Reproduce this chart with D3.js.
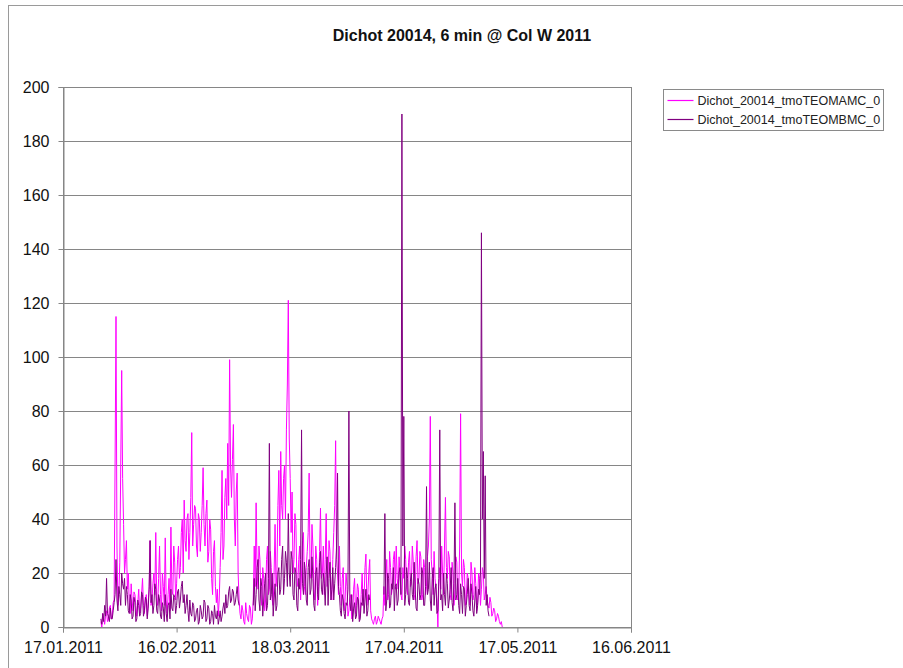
<!DOCTYPE html>
<html>
<head>
<meta charset="utf-8">
<script src="https://cdn.jsdelivr.net/npm/d3@7"></script>
<style>
body { margin: 0; background: #fff; }
svg { display: block; font-family: Arial, "Liberation Sans", sans-serif; }
</style>
</head>
<body>
<div id="chart"></div>
<script>

let title = "Dichot 20014, 6 min @ Col W 2011"

let seriesNames = ["Dichot_20014_tmoTEOMAMC_0", "Dichot_20014_tmoTEOMBMC_0"]

// first sample and spacing of the read-off values
let startDate = "27.01.2011"
let stepHours = 6

let amcValues = [
	2,0, 5,3, 1,4, 6,2, 3,7, 8,3, 4,9, 10,60, 115,30, 8,12,
	24,60, 95,55, 38,20, 25,32, 14,20, 9,5, 16,10, 6,13, 12,8, 4,9,
	14,5, 7,12, 18,8, 5,10, 12,4, 9,15, 32,8, 10,16, 20,12, 35,10,
	8,18, 30,12, 6,20, 15,8, 33,10, 4,12, 18,6, 37,14, 12,30, 24,10,
	16,25, 30,18, 22,35, 40,20, 47,32, 28,40, 42,25, 35,48, 72,30, 38,45,
	44,30, 26,42, 40,28, 35,45, 59,38, 30,42, 47,24, 28,40, 36,18, 12,28,
	32,15, 9,14, 4,10, 22,35, 58,25, 30,48, 55,40, 68,45, 99,60, 48,62,
	75,40, 30,50, 57,20, 10,5, 3,8, 6,2, 1,9, 5,3, 2,8, 7,1,
	3,10, 30,15, 46,20, 14,30, 25,12, 8,22, 18,6, 10,25, 30,12, 14,28,
	22,10, 8,20, 38,15, 20,45, 58,30, 65,45, 40,55, 60,40, 73,90, 121,70,
	55,35, 50,20, 25,42, 38,18, 15,25, 30,10, 20,32, 35,15, 12,22, 28,35,
	57,20, 18,38, 30,14, 10,30, 25,8, 15,28, 44,18, 20,30, 12,25, 42,15,
	18,32, 28,12, 10,25, 35,45, 69,25, 20,12, 30,15, 8,18, 22,6, 10,20,
	15,4, 6,10, 12,3, 4,14, 18,5, 8,16, 14,3, 5,12, 20,8, 10,22,
	27,8, 12,20, 25,6, 3,2, 1,3, 4,1, 2,4, 3,2, 1,3, 4,15,
	8,18, 25,10, 12,28, 22,12, 15,25, 28,14, 30,18, 14,26, 20,12, 10,22,
	18,30, 25,14, 12,24, 28,15, 16,30, 24,12, 10,26, 32,16, 18,28, 26,10,
	12,25, 22,12, 15,26, 30,40, 78,25, 20,12, 28,18, 14,10, 0,15, 22,14,
	30,20, 12,30, 48,22, 18,28, 26,12, 10,24, 20,8, 14,26, 24,10, 12,30,
	79,20, 15,25, 22,8, 10,20, 18,12, 8,24, 20,10, 12,22, 16,6, 9,20,
	18,8, 14,22, 20,10, 12,15, 10,8, 7,11, 9,4, 5,7, 6,2, 3,5,
	4,2, 1,2, 0
]

let bmcValues = [
	3,1, 5,2, 8,4, 18,5, 4,2, 7,3, 3,6, 9,12, 25,10, 6,15,
	12,8, 20,16, 14,18, 8,15, 12,6, 5,12, 10,3, 4,11, 9,2, 3,10,
	8,4, 5,13, 12,4, 6,11, 10,3, 7,14, 32,9, 12,5, 8,16, 14,6,
	5,12, 10,4, 3,9, 7,2, 12,5, 2,8, 9,3, 14,7, 6,12, 11,5,
	8,13, 14,7, 10,15, 17,9, 12,5, 8,12, 6,2, 10,5, 4,9, 8,2,
	3,6, 7,1, 2,8, 6,3, 4,10, 9,2, 3,8, 7,1, 2,6, 5,1,
	8,4, 3,6, 1,3, 6,2, 4,7, 9,5, 12,7, 8,13, 15,9, 10,14,
	13,8, 9,12, 15,10, 8,null, null,null, null,null, null,null, null,null, null,null, null,null,
	null,8, 18,6, 12,22, 25,10, 6,18, 15,4, 10,16, 20,6, 8,18, 68,10,
	12,20, 4,10, 16,6, 8,20, 22,12, 14,25, 30,12, 18,28, 24,15, 42,20,
	15,28, 25,12, 10,22, 20,8, 6,18, 14,25, 73,16, 12,24, 20,10, 8,22,
	25,12, 14,26, 18,8, 6,20, 22,12, 10,24, 28,14, 12,20, 16,8, 20,26,
	8,18, 24,10, 14,22, 10,16, 22,30, 57,15, 12,6, 4,12, 10,5, 3,9,
	8,14, 80,10, 6,12, 2,7, 9,3, 4,11, 10,2, 3,9, 8,14, 5,10,
	14,4, 6,12, 10,null, null,null, null,null, null,null, null,null, null,null, null,null, null,12,
	42,6, 10,20, 18,7, 8,16, 14,22, 6,15, 16,8, 10,20, 22,12, 190,30,
	78,8, 12,22, 18,9, 8,17, 20,12, 10,24, 14,7, 6,18, 16,10, 12,22,
	20,8, 8,15, 52,12, 14,24, 10,6, 18,22, 8,14, 16,5, 6,18, 73,10,
	12,6, 20,12, 8,20, 16,7, 10,14, 22,9, 6,16, 46,10, 12,18, 8,5,
	16,12, 5,15, 14,4, 8,12, 18,8, 6,16, 12,6, 4,10, 15,5, 8,14,
	12,20, 146,40, 65,18, 56,8, 12,6, 4
]

let xTickLabels = ["17.01.2011", "16.02.2011", "18.03.2011", "17.04.2011", "17.05.2011", "16.06.2011"]

let yTickValues = [0, 20, 40, 60, 80, 100, 120, 140, 160, 180, 200]


let width = 903
let height = 668

let plot = {left: 63, right: 631, top: 87, bottom: 627}

let parseDate = d3.utcParse("%d.%m.%Y")
let t0 = parseDate(startDate)

function toPoints(values){
	return values.map((v, i) => ({'time': d3.utcHour.offset(t0, i * stepHours), 'value': v}))
}

let series = [
	{'name': seriesNames[0], 'points': toPoints(amcValues), 'color': '#ff00ff'},
	{'name': seriesNames[1], 'points': toPoints(bmcValues), 'color': '#800080'}
]

let xTicks = xTickLabels.map(parseDate)

let xScale = d3.scaleUtc()
	.domain([xTicks[0], xTicks[xTicks.length - 1]])
	.range([plot.left, plot.right])

let yScale = d3.scaleLinear()
	.domain([0, 200])
	.range([plot.bottom, plot.top])

const svg = d3.select('#chart')
	.append('svg')
	.attr('width', width)
	.attr('height', height)

// chart frame
svg.append('rect')
	.attr('x', 8.5)
	.attr('y', 5.5)
	.attr('width', width + 10)
	.attr('height', height + 10)
	.attr('fill', 'white')
	.attr('stroke', '#9a9a9a')

svg.append('text')
	.attr('x', 462)
	.attr('y', 41)
	.attr('text-anchor', 'middle')
	.attr('font-size', 16)
	.attr('font-weight', 'bold')
	.attr('fill', '#111')
	.text(title)

// gridlines
svg.selectAll('.grid')
	.data(yTickValues)
	.enter()
	.append('line')
	.attr('class', 'grid')
	.attr('x1', plot.left)
	.attr('x2', plot.right)
	.attr('y1', d => Math.round(yScale(d)) + 0.5)
	.attr('y2', d => Math.round(yScale(d)) + 0.5)
	.attr('stroke', '#868686')
	.attr('stroke-width', 1)

// plot area border
svg.append('rect')
	.attr('x', plot.left + 0.5)
	.attr('y', plot.top + 0.5)
	.attr('width', plot.right - plot.left)
	.attr('height', plot.bottom - plot.top)
	.attr('fill', 'none')
	.attr('stroke', '#868686')

let line = d3.line()
	.defined(d => d.value != null)
	.x(d => xScale(d.time))
	.y(d => yScale(d.value))

svg.selectAll('.series')
	.data(series)
	.enter()
	.append('path')
	.attr('class', 'series')
	.attr('d', d => line(d.points))
	.attr('fill', 'none')
	.attr('stroke', d => d.color)
	.attr('stroke-width', 1)
	.attr('stroke-linejoin', 'miter')

xAxis = g => g.attr('transform', `translate(0,${plot.bottom + 0.5})`)
	.call(d3.axisBottom(xScale).tickValues(xTicks).tickFormat(d3.utcFormat('%d.%m.%Y')).tickSizeOuter(0).tickSize(5).tickPadding(9))

yAxis = g => g.attr('transform', `translate(${plot.left + 0.5},0)`)
	.call(d3.axisLeft(yScale).tickValues(yTickValues).tickSizeOuter(0).tickSize(5).tickPadding(9))

let xG = svg.append('g').call(xAxis)
let yG = svg.append('g').call(yAxis)

;[xG, yG].forEach(function(g){
	g.selectAll('text').attr('fill', '#111').attr('font-size', 16).attr('font-family', 'Arial, "Liberation Sans", sans-serif')
	g.selectAll('path').attr('stroke', '#868686')
	g.selectAll('line').attr('stroke', '#868686')
})

// legend
let legend = svg.append('g').attr('transform', 'translate(663.5,89.5)')

legend.append('rect')
	.attr('width', 220)
	.attr('height', 41)
	.attr('fill', 'white')
	.attr('stroke', '#8a8a8a')

let items = legend.selectAll('.item')
	.data(series)
	.enter()
	.append('g')
	.attr('class', 'item')
	.attr('transform', (d, i) => `translate(0,${11 + i * 19})`)

items.append('line')
	.attr('x1', 4)
	.attr('x2', 30)
	.attr('stroke', d => d.color)
	.attr('stroke-width', 1.2)

items.append('text')
	.attr('x', 34)
	.attr('y', 4.5)
	.attr('font-size', 12.5)
	.attr('fill', '#222')
	.text(d => d.name)

</script>
</body>
</html>
